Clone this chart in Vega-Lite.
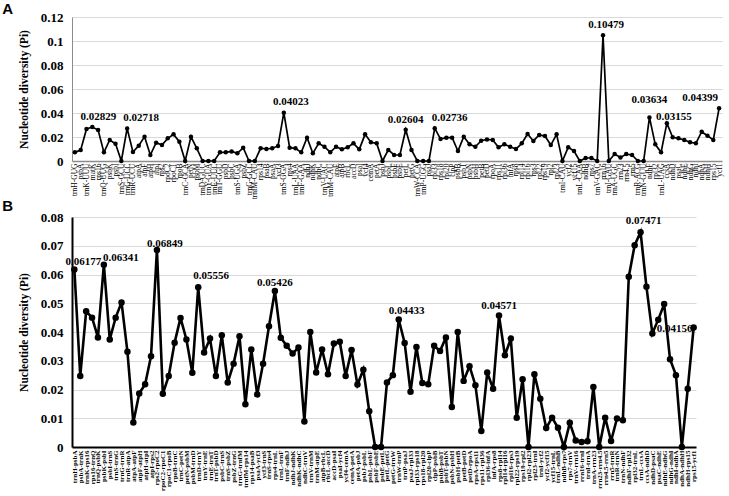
{
  "$schema": "https://vega.github.io/schema/vega-lite/v6.json",
  "padding": {"left": 2, "top": 2, "right": 2, "bottom": 0},
  "background": "white",
  "config": {"view": {"stroke": null}, "font": "Liberation Serif", "concat": {"spacing": 0}},
  "datasets": {
    "A": [
      {"g": "trnH-GUG", "v": 0.0072}, {"g": "psbA", "v": 0.0092}, {"g": "trnK-UUU", "v": 0.0267}, {"g": "matK", "v": 0.02829},
      {"g": "rps16", "v": 0.0258}, {"g": "trnQ-UUG", "v": 0.0072}, {"g": "psbK", "v": 0.0175}, {"g": "psbI", "v": 0.0144},
      {"g": "trnS-GCU", "v": 0}, {"g": "trnG-UCC", "v": 0.02718}, {"g": "trnR-UCU", "v": 0.0075}, {"g": "atpA", "v": 0.0128},
      {"g": "atpF", "v": 0.0203}, {"g": "atpH", "v": 0.005}, {"g": "atpI", "v": 0.0153}, {"g": "rps2", "v": 0.0133},
      {"g": "rpoC2", "v": 0.0189}, {"g": "rpoC1", "v": 0.0222}, {"g": "rpoB", "v": 0.0161}, {"g": "trnC-GCA", "v": 0},
      {"g": "petN", "v": 0.0203}, {"g": "psbM", "v": 0.0106}, {"g": "trnD-GUC", "v": 0}, {"g": "trnY-GUA", "v": 0},
      {"g": "trnE-UUC", "v": 0}, {"g": "trnT-GGU", "v": 0.0072}, {"g": "psbD", "v": 0.0072}, {"g": "psbC", "v": 0.008},
      {"g": "trnS-UGA", "v": 0.0064}, {"g": "psbZ", "v": 0.0111}, {"g": "trnG-GCC", "v": 0}, {"g": "trnfM-CAU", "v": 0},
      {"g": "rps14", "v": 0.0106}, {"g": "psaB", "v": 0.01}, {"g": "psaA", "v": 0.0106}, {"g": "ycf3", "v": 0.0125},
      {"g": "trnS-GGA", "v": 0.04023}, {"g": "rps4", "v": 0.0111}, {"g": "trnL-UAA", "v": 0.0106}, {"g": "trnF-GAA", "v": 0.0072},
      {"g": "ndhJ", "v": 0.0194}, {"g": "ndhK", "v": 0.0064}, {"g": "ndhC", "v": 0.0147}, {"g": "trnV-UAC", "v": 0.0119},
      {"g": "trnM-CAU", "v": 0.0072}, {"g": "atpE", "v": 0.0119}, {"g": "atpB", "v": 0.0097}, {"g": "rbcL", "v": 0.0114},
      {"g": "accD", "v": 0.0147}, {"g": "psaI", "v": 0.0097}, {"g": "ycf4", "v": 0.0222}, {"g": "cemA", "v": 0.0156},
      {"g": "petA", "v": 0.0147}, {"g": "psbJ", "v": 0}, {"g": "psbL", "v": 0.0092}, {"g": "psbF", "v": 0.005},
      {"g": "psbE", "v": 0.005}, {"g": "petL", "v": 0.02604}, {"g": "petG", "v": 0.0092}, {"g": "trnW-CCA", "v": 0},
      {"g": "trnP-UGG", "v": 0}, {"g": "psaJ", "v": 0}, {"g": "rpl33", "v": 0.02736}, {"g": "rps18", "v": 0.0183},
      {"g": "rpl20", "v": 0.0194}, {"g": "clpP", "v": 0.0194}, {"g": "psbB", "v": 0.0083}, {"g": "psbT", "v": 0.0203},
      {"g": "psbN", "v": 0.0139}, {"g": "psbH", "v": 0.0119}, {"g": "petB", "v": 0.0169}, {"g": "petD", "v": 0.018},
      {"g": "rpoA", "v": 0.0175}, {"g": "rps11", "v": 0.0114}, {"g": "rpl36", "v": 0.0139}, {"g": "infA", "v": 0.0119},
      {"g": "rps8", "v": 0.01}, {"g": "rpl14", "v": 0.0147}, {"g": "rpl16", "v": 0.0225}, {"g": "rps3", "v": 0.0167},
      {"g": "rpl22", "v": 0.0217}, {"g": "rps19", "v": 0.0208}, {"g": "rpl2", "v": 0.0133}, {"g": "rpl23", "v": 0.0222},
      {"g": "trnI-CAU", "v": 0}, {"g": "ycf2", "v": 0.0114}, {"g": "ycf15", "v": 0.0083}, {"g": "trnL-CAA", "v": 0},
      {"g": "ndhB", "v": 0.0025}, {"g": "rps7", "v": 0.0025}, {"g": "trnV-GAC", "v": 0}, {"g": "rrn16", "v": 0.10479},
      {"g": "trnI-GAU", "v": 0}, {"g": "trnA-UGC", "v": 0.0058}, {"g": "rrn23", "v": 0.003}, {"g": "rrn4.5", "v": 0.0058},
      {"g": "rrn5", "v": 0.005}, {"g": "trnR-ACG", "v": 0}, {"g": "trnN-GUU", "v": 0}, {"g": "ndhF", "v": 0.03634},
      {"g": "rpl32", "v": 0.0139}, {"g": "trnL-UAG", "v": 0.0072}, {"g": "ccsA", "v": 0.03155}, {"g": "ndhD", "v": 0.0197},
      {"g": "psaC", "v": 0.0189}, {"g": "ndhE", "v": 0.0175}, {"g": "ndhG", "v": 0.0156}, {"g": "ndhI", "v": 0.0147},
      {"g": "ndhA", "v": 0.0244}, {"g": "ndhH", "v": 0.0211}, {"g": "rps15", "v": 0.0175}, {"g": "ycf1", "v": 0.04399}
    ],
    "B": [
      {"g": "trnH-psbA", "v": 0.06177}, {"g": "psbA-trnK", "v": 0.0247}, {"g": "trnK-rps16", "v": 0.0472}, {"g": "rps16-trnQ", "v": 0.045},
      {"g": "trnQ-psbK", "v": 0.0381}, {"g": "psbK-psbI", "v": 0.06341}, {"g": "psbI-trnS", "v": 0.0374}, {"g": "trnS-trnG", "v": 0.045},
      {"g": "trnG-trnR", "v": 0.0503}, {"g": "trnR-atpA", "v": 0.0331}, {"g": "atpA-atpF", "v": 0.0085}, {"g": "atpF-atpH", "v": 0.0186},
      {"g": "atpH-atpI", "v": 0.0218}, {"g": "atpI-rps2", "v": 0.0316}, {"g": "rps2-rpoC2", "v": 0.06849}, {"g": "rpoC2-rpoC1", "v": 0.0185},
      {"g": "rpoC1-rpoB", "v": 0.0247}, {"g": "rpoB-trnC", "v": 0.0363}, {"g": "trnC-petN", "v": 0.0449}, {"g": "petN-psbM", "v": 0.0374},
      {"g": "psbM-trnD", "v": 0.0258}, {"g": "trnD-trnY", "v": 0.05556}, {"g": "trnY-trnE", "v": 0.0329}, {"g": "trnE-trnT", "v": 0.0377},
      {"g": "trnT-psbD", "v": 0.0247}, {"g": "psbC-trnS", "v": 0.0389}, {"g": "trnS-psbZ", "v": 0.0224}, {"g": "psbZ-trnG", "v": 0.029},
      {"g": "trnG-trnfM", "v": 0.0385}, {"g": "trnfM-rps14", "v": 0.0149}, {"g": "rps14-psaB", "v": 0.0339}, {"g": "psaA-ycf3", "v": 0.0183},
      {"g": "ycf3-trnS", "v": 0.029}, {"g": "trnS-rps4", "v": 0.042}, {"g": "rps4-trnL", "v": 0.05426}, {"g": "trnL-trnF", "v": 0.038},
      {"g": "trnF-ndhJ", "v": 0.0352}, {"g": "ndhJ-ndhK", "v": 0.0325}, {"g": "ndhK-ndhC", "v": 0.0346}, {"g": "ndhC-trnV", "v": 0.0089},
      {"g": "trnV-trnM", "v": 0.04}, {"g": "trnM-atpE", "v": 0.0259}, {"g": "atpB-rbcL", "v": 0.0339}, {"g": "rbcL-accD", "v": 0.0253},
      {"g": "accD-psaI", "v": 0.036}, {"g": "psaI-ycf4", "v": 0.0366}, {"g": "ycf4-cemA", "v": 0.0247}, {"g": "cemA-petA", "v": 0.0337},
      {"g": "petA-psbJ", "v": 0.0217}, {"g": "psbJ-psbL", "v": 0.0269}, {"g": "psbL-psbF", "v": 0.0124}, {"g": "psbF-psbE", "v": 0},
      {"g": "psbE-petL", "v": 0}, {"g": "petL-petG", "v": 0.0224}, {"g": "petG-trnW", "v": 0.025}, {"g": "trnW-trnP", "v": 0.04433},
      {"g": "trnP-psaJ", "v": 0.0362}, {"g": "psaJ-rpl33", "v": 0.0192}, {"g": "rpl33-rps18", "v": 0.0348}, {"g": "rps18-rpl20", "v": 0.0223},
      {"g": "rpl20-clpP", "v": 0.0218}, {"g": "clpP-psbB", "v": 0.0352}, {"g": "psbB-psbT", "v": 0.0334}, {"g": "psbT-psbN", "v": 0.0381},
      {"g": "psbN-psbH", "v": 0.0139}, {"g": "psbH-petB", "v": 0.04}, {"g": "petB-petD", "v": 0.023}, {"g": "petD-rpoA", "v": 0.0281},
      {"g": "rpoA-rps11", "v": 0.0215}, {"g": "rps11-rpl36", "v": 0.0056}, {"g": "rpl36-infA", "v": 0.0259}, {"g": "infA-rps8", "v": 0.0203},
      {"g": "rps8-rpl14", "v": 0.04571}, {"g": "rpl14-rpl16", "v": 0.0319}, {"g": "rpl16-rps3", "v": 0.0377}, {"g": "rpl22-rps19", "v": 0.0102},
      {"g": "rps19-rpl2", "v": 0.0236}, {"g": "rpl2-rpl23", "v": 0}, {"g": "rpl23-trnI", "v": 0.0253}, {"g": "trnI-ycf2", "v": 0.0168},
      {"g": "ycf2-ycf15", "v": 0.0066}, {"g": "ycf15-trnL", "v": 0.0102}, {"g": "trnL-ndhB", "v": 0.0067}, {"g": "ndhB-rps7", "v": 0},
      {"g": "rps7-trnV", "v": 0.0084}, {"g": "trnV-rrn16", "v": 0.0023}, {"g": "rrn16-trnI", "v": 0.0017}, {"g": "trnI-trnA", "v": 0.002},
      {"g": "trnA-rrn23", "v": 0.0209}, {"g": "rrn23-rrn4.5", "v": 0}, {"g": "rrn4.5-rrn5", "v": 0.0102}, {"g": "rrn5-trnR", "v": 0.0021},
      {"g": "trnR-trnN", "v": 0.0099}, {"g": "trnN-ndhF", "v": 0.0093}, {"g": "ndhF-rpl32", "v": 0.0592}, {"g": "rpl32-trnL", "v": 0.0702},
      {"g": "trnL-ccsA", "v": 0.07471}, {"g": "ccsA-ndhD", "v": 0.0557}, {"g": "ndhD-psaC", "v": 0.0395}, {"g": "psaC-ndhE", "v": 0.0443},
      {"g": "ndhE-ndhG", "v": 0.0497}, {"g": "ndhG-ndhI", "v": 0.0305}, {"g": "ndhI-ndhA", "v": 0.025}, {"g": "ndhA-ndhH", "v": 0},
      {"g": "ndhH-rps15", "v": 0.0203}, {"g": "rps15-ycf1", "v": 0.04156}
    ]
  },
  "vconcat": [
    {
      "title": {"text": "A", "anchor": "start", "frame": "bounds", "font": "Liberation Sans", "fontSize": 15, "fontWeight": "bold", "color": "black", "dx": -16, "offset": -6},
      "width": 650,
      "height": 144,
      "data": {"name": "A"},
      "encoding": {
        "x": {"field": "g", "type": "ordinal", "sort": null, "scale": {"type": "point", "padding": 0.5},
          "axis": {"title": null, "labelAngle": -90, "labelFontSize": 7.5, "labelFont": "Liberation Serif", "labelColor": "black", "labelOverlap": false, "ticks": false, "labelPadding": 2, "domainColor": "#8c8c8c", "domainWidth": 1.5, "grid": false}},
        "y": {"field": "v", "type": "quantitative", "scale": {"domain": [0, 0.12]},
          "axis": {"title": "Nucleotide diversity (Pi)", "titleFont": "Liberation Serif", "titleFontSize": 11.5, "titleFontWeight": "bold", "titleColor": "black", "titlePadding": 11,
            "values": [0, 0.02, 0.04, 0.06, 0.08, 0.1, 0.12], "format": ".2~f", "labelFont": "Liberation Serif", "labelFontSize": 13, "labelFontWeight": "bold", "labelColor": "black", "labelPadding": 9, "ticks": false,
            "domainColor": "#8c8c8c", "domainWidth": 1, "gridColor": "#d9d9d9", "gridWidth": 1}}
      },
      "layer": [
        {"mark": {"type": "line", "color": "black", "strokeWidth": 1.7}},
        {"mark": {"type": "point", "filled": true, "color": "black", "size": 20, "opacity": 1}},
        {"transform": [{"filter": "datum.v == 0.02829"}], "mark": {"type": "text", "dx": 6, "dy": -10, "fontSize": 11, "fontWeight": "bold", "color": "black"}, "encoding": {"text": {"field": "v", "type": "quantitative", "format": ".5f"}}},
        {"transform": [{"filter": "datum.v == 0.02718"}], "mark": {"type": "text", "dx": 14, "dy": -10, "fontSize": 11, "fontWeight": "bold", "color": "black"}, "encoding": {"text": {"field": "v", "type": "quantitative", "format": ".5f"}}},
        {"transform": [{"filter": "datum.v == 0.04023"}], "mark": {"type": "text", "dx": 7, "dy": -11, "fontSize": 11, "fontWeight": "bold", "color": "black"}, "encoding": {"text": {"field": "v", "type": "quantitative", "format": ".5f"}}},
        {"transform": [{"filter": "datum.v == 0.02604"}], "mark": {"type": "text", "dx": 0, "dy": -10, "fontSize": 11, "fontWeight": "bold", "color": "black"}, "encoding": {"text": {"field": "v", "type": "quantitative", "format": ".5f"}}},
        {"transform": [{"filter": "datum.v == 0.02736"}], "mark": {"type": "text", "dx": 15, "dy": -10, "fontSize": 11, "fontWeight": "bold", "color": "black"}, "encoding": {"text": {"field": "v", "type": "quantitative", "format": ".5f"}}},
        {"transform": [{"filter": "datum.v == 0.10479"}], "mark": {"type": "text", "dx": 3, "dy": -10, "fontSize": 11, "fontWeight": "bold", "color": "black"}, "encoding": {"text": {"field": "v", "type": "quantitative", "format": ".5f"}}},
        {"transform": [{"filter": "datum.v == 0.03634"}], "mark": {"type": "text", "dx": 0, "dy": -17, "fontSize": 11, "fontWeight": "bold", "color": "black"}, "encoding": {"text": {"field": "v", "type": "quantitative", "format": ".5f"}}},
        {"transform": [{"filter": "datum.v == 0.03155"}], "mark": {"type": "text", "dx": 7, "dy": -6, "fontSize": 11, "fontWeight": "bold", "color": "black"}, "encoding": {"text": {"field": "v", "type": "quantitative", "format": ".5f"}}},
        {"transform": [{"filter": "datum.v == 0.04399"}], "mark": {"type": "text", "dx": -19, "dy": -10, "fontSize": 11, "fontWeight": "bold", "color": "black"}, "encoding": {"text": {"field": "v", "type": "quantitative", "format": ".5f"}}}
      ]
    },
    {
      "title": {"text": "B", "anchor": "start", "frame": "bounds", "font": "Liberation Sans", "fontSize": 15, "fontWeight": "bold", "color": "black", "dx": -16, "offset": -3},
      "width": 624,
      "height": 230,
      "data": {"name": "B"},
      "encoding": {
        "x": {"field": "g", "type": "ordinal", "sort": null, "scale": {"type": "point", "padding": 0.4},
          "axis": {"title": null, "labelAngle": -90, "labelFontSize": 7, "labelFont": "Liberation Serif", "labelFontWeight": "bold", "labelColor": "black", "labelOverlap": false, "ticks": false, "labelPadding": 3, "domainColor": "black", "domainWidth": 2, "grid": false}},
        "y": {"field": "v", "type": "quantitative", "scale": {"domain": [0, 0.08]},
          "axis": {"title": "Nucleotide diversity (Pi)", "titleFont": "Liberation Serif", "titleFontSize": 11.5, "titleFontWeight": "bold", "titleColor": "black", "titlePadding": 11,
            "values": [0, 0.01, 0.02, 0.03, 0.04, 0.05, 0.06, 0.07, 0.08], "format": ".2~f", "labelFont": "Liberation Serif", "labelFontSize": 13, "labelFontWeight": "bold", "labelColor": "black", "labelPadding": 9, "ticks": false,
            "domainColor": "black", "domainWidth": 2, "gridColor": "#d9d9d9", "gridWidth": 1}}
      },
      "layer": [
        {"mark": {"type": "line", "color": "black", "strokeWidth": 2.6}},
        {"mark": {"type": "point", "filled": true, "color": "black", "size": 42, "opacity": 1}},
        {"transform": [{"filter": "datum.v == 0.06177"}], "mark": {"type": "text", "dx": 9, "dy": -7, "fontSize": 11, "fontWeight": "bold", "color": "black"}, "encoding": {"text": {"field": "v", "type": "quantitative", "format": ".5f"}}},
        {"transform": [{"filter": "datum.v == 0.06341"}], "mark": {"type": "text", "dx": 17, "dy": -7, "fontSize": 11, "fontWeight": "bold", "color": "black"}, "encoding": {"text": {"field": "v", "type": "quantitative", "format": ".5f"}}},
        {"transform": [{"filter": "datum.v == 0.06849"}], "mark": {"type": "text", "dx": 8, "dy": -6, "fontSize": 11, "fontWeight": "bold", "color": "black"}, "encoding": {"text": {"field": "v", "type": "quantitative", "format": ".5f"}}},
        {"transform": [{"filter": "datum.v == 0.05556"}], "mark": {"type": "text", "dx": 13, "dy": -11, "fontSize": 11, "fontWeight": "bold", "color": "black"}, "encoding": {"text": {"field": "v", "type": "quantitative", "format": ".5f"}}},
        {"transform": [{"filter": "datum.v == 0.05426"}], "mark": {"type": "text", "dx": 0, "dy": -8, "fontSize": 11, "fontWeight": "bold", "color": "black"}, "encoding": {"text": {"field": "v", "type": "quantitative", "format": ".5f"}}},
        {"transform": [{"filter": "datum.v == 0.04433"}], "mark": {"type": "text", "dx": 8, "dy": -9, "fontSize": 11, "fontWeight": "bold", "color": "black"}, "encoding": {"text": {"field": "v", "type": "quantitative", "format": ".5f"}}},
        {"transform": [{"filter": "datum.v == 0.04571"}], "mark": {"type": "text", "dx": 0, "dy": -10, "fontSize": 11, "fontWeight": "bold", "color": "black"}, "encoding": {"text": {"field": "v", "type": "quantitative", "format": ".5f"}}},
        {"transform": [{"filter": "datum.v == 0.07471"}], "mark": {"type": "text", "dx": 3, "dy": -11, "fontSize": 11, "fontWeight": "bold", "color": "black"}, "encoding": {"text": {"field": "v", "type": "quantitative", "format": ".5f"}}},
        {"transform": [{"filter": "datum.v == 0.04156"}], "mark": {"type": "text", "dx": -19, "dy": 1, "fontSize": 11, "fontWeight": "bold", "color": "black"}, "encoding": {"text": {"field": "v", "type": "quantitative", "format": ".5f"}}}
      ]
    }
  ]
}
